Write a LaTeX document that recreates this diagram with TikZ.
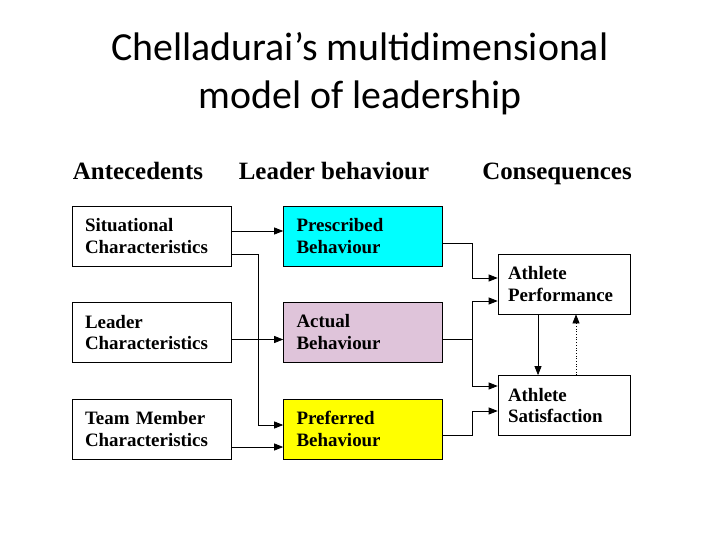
\documentclass[tikz,border=0pt]{standalone}
\usepackage{fontspec}
\setmainfont{Liberation Serif}
\newfontfamily\titlefont{Carlito}
\usepackage{xcolor}
\usetikzlibrary{arrows.meta,positioning}
\definecolor{prescyan}{RGB}{0,255,255}
\definecolor{actualmauve}{RGB}{223,196,218}
\definecolor{prefyellow}{RGB}{255,255,0}

\begin{document}
\begin{tikzpicture}[x=1bp, y=-1bp,
  state/.style={rectangle, draw, minimum width=159bp, minimum height=60bp,
    text width=133bp, align=left, font=\fontsize{19}{22}\selectfont\bfseries},
  result/.style={state, minimum width=132bp, text width=112bp},
  heading/.style={anchor=base, font=\fontsize{25}{30}\selectfont\bfseries},
  ->, >={Triangle[length=9bp,width=7bp]}, line width=0.7bp
]
  \useasboundingbox (0,0) rectangle (720,540);

  \node[font=\titlefont\fontsize{40}{48}\selectfont, align=center] (title) at (360, 74)
    {Chelladurai’s multidimensional\\model of leadership};

  % Column headings
  \node[heading] (hant) at (138, 180) {Antecedents};
  \node[heading] (hlead) at (334, 180) {Leader behaviour};
  \node[heading] (hcons) at (557, 180) {Consequences};

  % Antecedents
  \node[state] (sit) at (151.5, 236) {Situational\\Characteristics};
  \node[state] (lead) at (151.5, 332.5) {Leader\\Characteristics};
  \node[state] (team) at (151.5, 429) {Team Member\\Characteristics};

  % Leader behaviour
  \node[state, fill=prescyan] (pres) at (363, 236) {Prescribed\\Behaviour};
  \node[state, fill=actualmauve] (act) at (363, 332.5) {Actual\\Behaviour};
  \node[state, fill=prefyellow] (pref) at (363, 429) {Preferred\\Behaviour};

  % Consequences
  \node[result] (perf) at (564, 284) {Athlete\\Performance};
  \node[result] (sat) at (564, 405.5) {Athlete\\Satisfaction};

  \draw ([yshift=5bp]sit.east) -- ([yshift=5bp]pres.west);
  \draw ([yshift=-18bp]sit.east) -- ++(27,0) |- ([yshift=4bp]pref.west);
  \draw ([yshift=-7bp]lead.east) -- ([yshift=-7bp]act.west);
  \draw ([yshift=-18bp]team.east) -- ([yshift=-18bp]pref.west);

  \draw ([yshift=-7bp]pres.east) -- ++(29,0) |- ([yshift=6bp]perf.west);
  \draw ([yshift=-7bp]act.east) -- ++(29,0) |- ([yshift=-17bp]perf.west);
  \draw ([yshift=-7bp]act.east) -- ++(29,0) |- ([yshift=19.5bp]sat.west);
  \draw ([yshift=-6bp]pref.east) -- ++(29,0) |- ([yshift=-5.5bp]sat.west);

  \draw ([xshift=-26bp]perf.south) -- ([xshift=-26bp]sat.north);
  \draw[dotted] ([xshift=12bp]sat.north) -- ([xshift=12bp]perf.south);
\end{tikzpicture}
\end{document}
